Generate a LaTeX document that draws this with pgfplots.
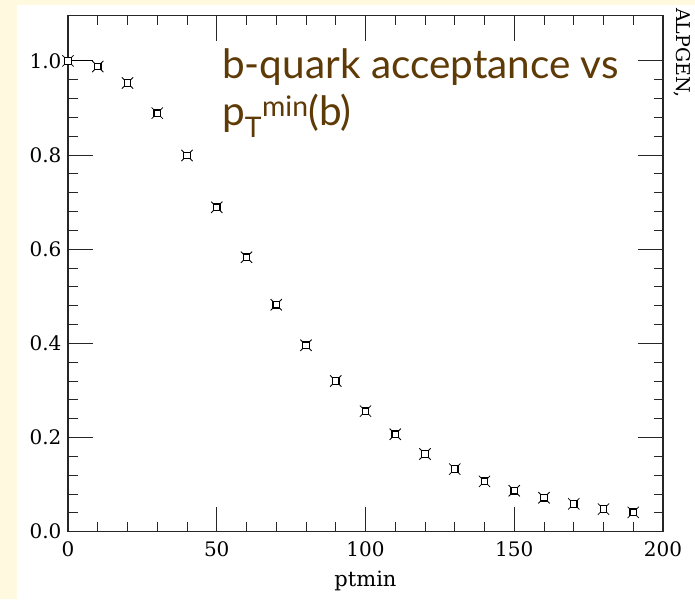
\documentclass[border=0pt]{standalone}
\usepackage{pgfplots}
\usepackage{pgfplotstable}
\pgfplotsset{compat=1.18}
\usepackage{fontspec}
\setmainfont{DejaVu Serif}
\newfontfamily\titlefont{Lato}
\definecolor{bgyel}{HTML}{FFF9DF}
\definecolor{titlebrown}{HTML}{5E3A06}
\pgfplotstableread{
x y
0 1.000
10 0.988
20 0.953
30 0.889
40 0.799
50 0.689
60 0.583
70 0.482
80 0.396
90 0.320
100 0.256
110 0.207
120 0.165
130 0.133
140 0.107
150 0.087
160 0.072
170 0.059
180 0.048
190 0.041
}\accdata
\begin{document}
\begin{tikzpicture}[x=1pt,y=1pt]
\useasboundingbox (0,0) rectangle (695,599);
\fill[white] (0,0) rectangle (695,599);
\fill[bgyel] (0,0) rectangle (17,599);
\fill[bgyel] (0,594) rectangle (695,599);
\begin{axis}[
  at={(68pt,67.3pt)}, anchor=south west,
  scale only axis, width=595pt, height=516pt,
  xmin=0, xmax=200, ymin=0, ymax=1.096,
  xtick={0,50,100,150,200}, ytick={0,0.2,0.4,0.6,0.8,1.0},
  minor x tick num=4, minor y tick num=4,
  tick align=inside, major tick length=25pt, minor tick length=9.5pt,
  tick style={black!85, line width=1pt},
  axis line style={black!85, line width=1.3pt},
  /pgf/number format/assume math mode=true,
  ticklabel style={font=\fontsize{20}{24}\selectfont},
  xticklabel style={yshift=-6pt},
  yticklabel style={xshift=-3pt, /pgf/number format/.cd, fixed, fixed zerofill, precision=1},
  xlabel={ptmin}, xlabel style={font=\fontsize{21}{24}\selectfont, yshift=-8pt},
  clip=false,
]
\addplot[black, line width=0.9pt] coordinates {(0,1) (8.5,1)};
\addplot[only marks, mark=x, mark size=8pt, mark options={line width=0.8pt, black}] table[x=x,y=y] {\accdata};
\addplot[only marks, mark=square*, mark size=3.3pt, mark options={fill=white, draw=black, line width=1.3pt}] table[x=x,y=y] {\accdata};
\end{axis}
\node[anchor=base west, inner sep=0, text=titlebrown, font=\titlefont\fontsize{40.5}{44}\selectfont] at (222,520.5) {b-quark acceptance vs};
\node[anchor=base west, inner sep=0, text=titlebrown, font=\titlefont\fontsize{40.5}{44}\selectfont] at (222,473.5) {p\textsubscript{T}\textsuperscript{min}(b)};
\node[rotate=-90, anchor=base west, inner sep=0, font=\fontsize{19}{20}\selectfont] at (676,591) {ALPGEN,};
\end{tikzpicture}
\end{document}
